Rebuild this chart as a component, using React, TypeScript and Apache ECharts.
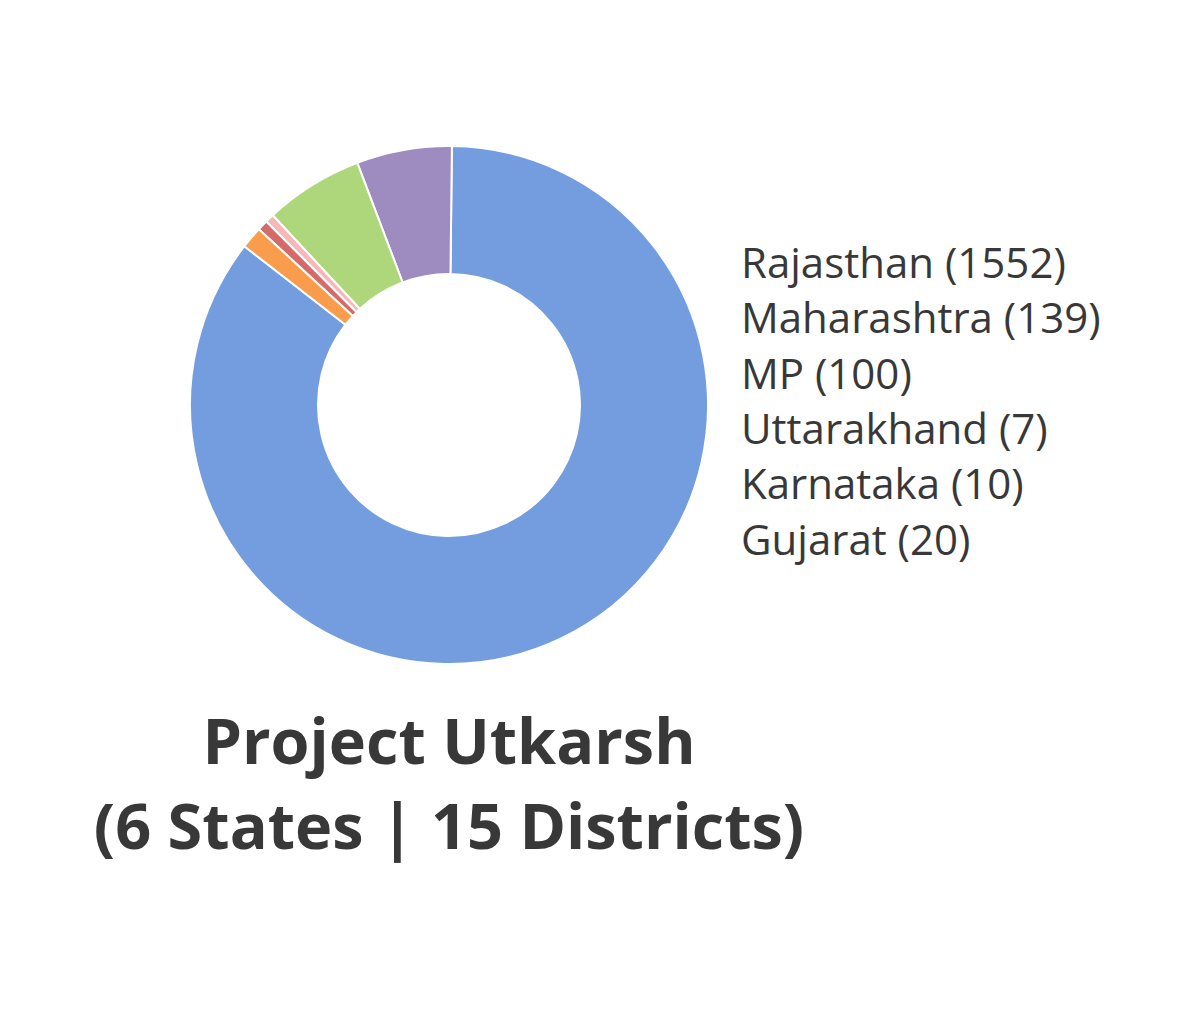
import React, { useEffect, useRef } from "react";
import * as echarts from "echarts";

// Legend / slice order (counter-clockwise from the blue/orange boundary)
const stateNames = ["Rajasthan", "Maharashtra", "MP", "Uttarakhand", "Karnataka", "Gujarat"];
// Counts printed in the legend labels
const labelCounts = [1552, 139, 100, 7, 10, 20];
// Slice sizes as read from the drawn donut
const sliceValues = [1552, 108, 112, 10, 12, 25];
const sliceColors = ["#739DDE", "#9E8BBF", "#AED67B", "#F7B8B8", "#D46A6A", "#F99D4C"];
const titleLines = ["Project Utkarsh", "(6 States | 15 Districts)"];

export default function App() {
  const ref = useRef<HTMLDivElement>(null);
  useEffect(() => {
    document.body.style.margin = "0";
    const chart = echarts.init(ref.current!, null, { renderer: "svg" });
    const countOf: Record<string, number> = {};
    stateNames.forEach((n, i) => (countOf[n] = labelCounts[i]));
    chart.setOption({
      animation: false,
      backgroundColor: "#ffffff",
      legend: {
        orient: "vertical",
        left: 731,
        top: 229,
        icon: "none",
        itemWidth: 0,
        itemHeight: 10,
        itemGap: 0,
        data: stateNames,
        formatter: (name: string) => `${name} (${countOf[name]})`,
        textStyle: {
          fontFamily: "Open Sans",
          fontSize: 42,
          lineHeight: 55.3,
          color: "#383838",
        },
        selectedMode: false,
      },
      series: [
        {
          type: "pie",
          center: [449, 405],
          radius: [131, 259],
          startAngle: 142.2,
          clockwise: false,
          label: { show: false },
          labelLine: { show: false },
          itemStyle: { borderColor: "#ffffff", borderWidth: 2 },
          emphasis: { disabled: true },
          data: stateNames.map((n, i) => ({
            name: n,
            value: sliceValues[i],
            itemStyle: { color: sliceColors[i] },
          })),
        },
      ],
      graphic: titleLines.map((t, i) => ({
        type: "text",
        x: 449,
        y: 708 + i * 85,
        style: {
          text: t,
          fontFamily: "Open Sans",
          fontWeight: "bold",
          fontSize: 63,
          fill: "#383838",
          textAlign: "center",
          textVerticalAlign: "top",
        },
      })),
    });
    return () => chart.dispose();
  }, []);
  return <div ref={ref} style={{ width: 1193, height: 1011 }} />;
}
